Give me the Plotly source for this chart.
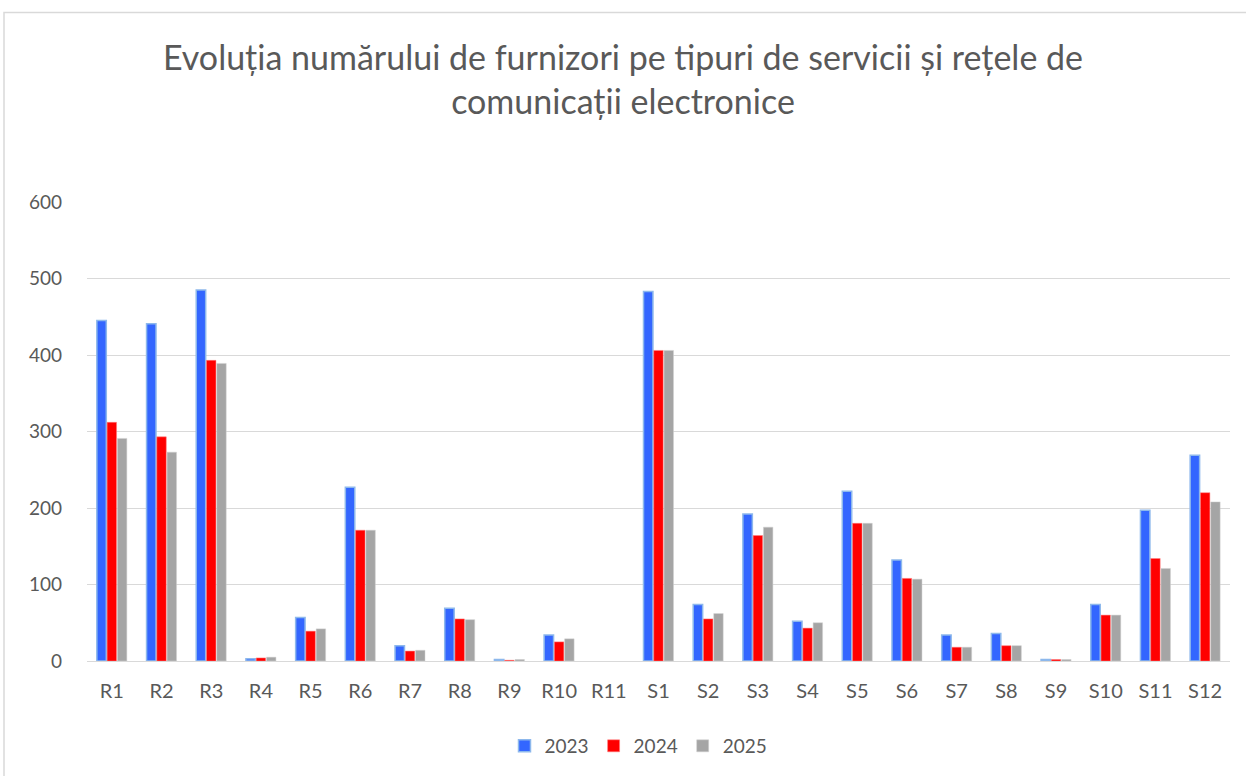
import plotly.graph_objects as go

categories = ["R1", "R2", "R3", "R4", "R5", "R6", "R7", "R8", "R9", "R10", "R11",
              "S1", "S2", "S3", "S4", "S5", "S6", "S7", "S8", "S9", "S10", "S11", "S12"]
v2023 = [445, 441, 485, 3, 57, 227, 20, 69, 2, 34, 0,
         483, 74, 192, 52, 222, 132, 34, 36, 2, 74, 197, 269]
v2024 = [312, 293, 393, 4, 39, 171, 13, 55, 1, 25, 0,
         406, 55, 164, 43, 180, 108, 18, 20, 2, 60, 134, 220]
v2025 = [291, 273, 389, 5, 42, 171, 14, 54, 2, 29, 0,
         406, 62, 175, 50, 180, 107, 18, 20, 2, 60, 121, 208]
years = ["2023", "2024", "2025"]
y_ticks = [0, 100, 200, 300, 400, 500, 600]

FONT = "Lato"
TXT = "#595959"


def lw(vals, w):
    return [w if v > 0 else 0 for v in vals]


fig = go.Figure()
fig.add_trace(go.Bar(x=categories, y=v2023, name=years[0],
                     marker=dict(color="#3366FF", line=dict(color="#8DB8EC", width=lw(v2023, 1.5)))))
fig.add_trace(go.Bar(x=categories, y=v2024, name=years[1],
                     marker=dict(color="#FF0000", line=dict(color="#FF8080", width=lw(v2024, 0.5)))))
fig.add_trace(go.Bar(x=categories, y=v2025, name=years[2],
                     marker=dict(color="#A5A5A5", line=dict(color="#D0D0D0", width=lw(v2025, 0.5)))))

W, H = 1246, 776
ml, mr, mt, mb = 87, 16, 202, 114
pw, ph = W - ml - mr, H - mt - mb

fig.update_layout(
    width=W, height=H,
    margin=dict(l=ml, r=mr, t=mt, b=mb),
    paper_bgcolor="white", plot_bgcolor="white",
    barmode="group", bargap=0.38, bargroupgap=0.08,
    font=dict(family=FONT, color=TXT, size=19),
    title=dict(
        text="Evoluția numărului de furnizori pe tipuri de servicii și rețele de<br>comunicații electronice",
        x=0.5, xanchor="center", xref="container",
        y=1 - 70 / H, yanchor="middle", yref="container",
        font=dict(family=FONT, size=34, color=TXT),
    ),
    legend=dict(orientation="h", x=0.5 - 20 / pw, xanchor="center", y=(H - mb - 746) / ph, yanchor="middle",
                font=dict(family=FONT, size=19, color=TXT), traceorder="normal"),
    xaxis=dict(showgrid=False, showline=True, linecolor="#D9D9D9", linewidth=1,
               ticks="", ticklabelstandoff=12, tickfont=dict(family=FONT, size=20, color=TXT)),
    yaxis=dict(range=[0, 600], tickvals=y_ticks, showgrid=True, gridcolor="#D9D9D9", gridwidth=1,
               zeroline=False, showline=False, ticks="", ticklabelstandoff=24,
               tickfont=dict(family=FONT, size=19, color=TXT)),
    shapes=[dict(type="rect", xref="paper", yref="paper",
                 x0=(4 - ml) / pw, x1=(W + 20 - ml) / pw,
                 y0=(H - mb - (H + 20)) / ph, y1=(H - mb - 12) / ph,
                 line=dict(color="#D9D9D9", width=1.5), fillcolor="rgba(0,0,0,0)", layer="below")],
)

fig.write_html("out.html", config={"displayModeBar": False},
               post_script="document.body.style.margin='0';document.body.style.overflow='hidden';")
